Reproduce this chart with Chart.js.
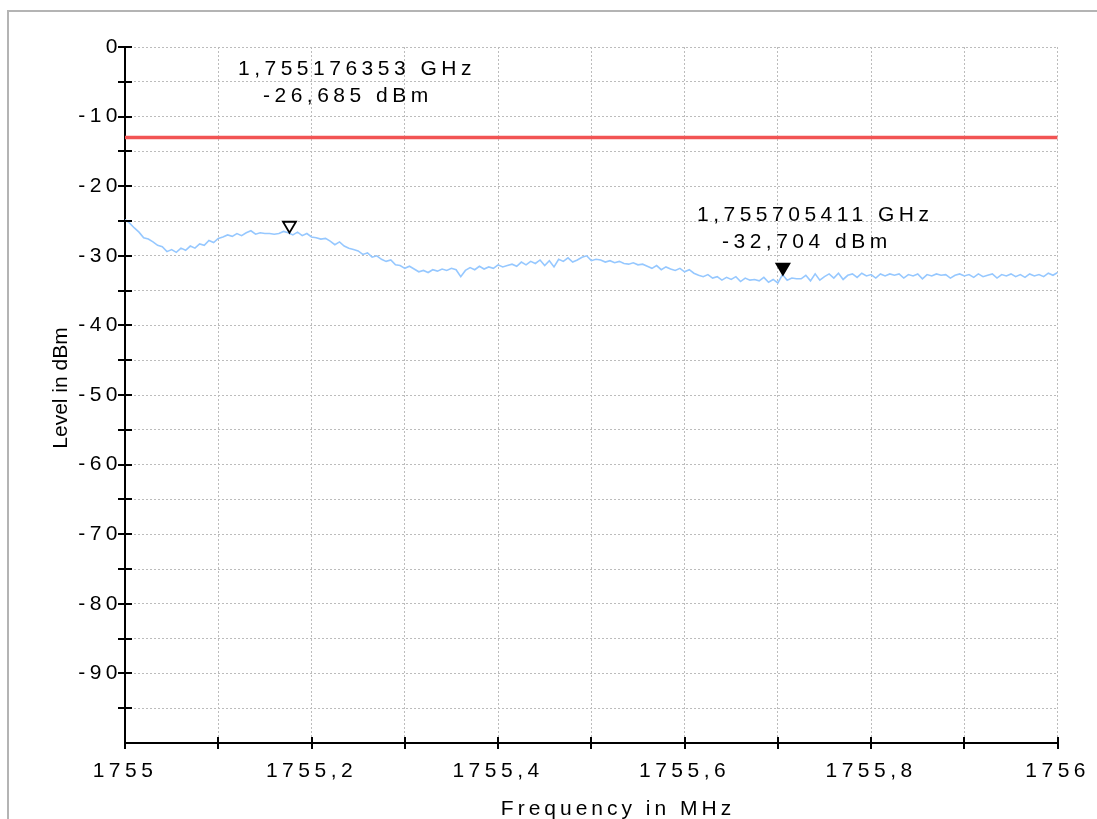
<!DOCTYPE html>
<html>
<head>
<meta charset="utf-8">
<script src="https://cdn.jsdelivr.net/npm/chart.js@4"></script>
<style>
  body { margin: 0; background: #fff; }
  #frame { position: absolute; left: 7px; top: 10px; width: 1100px; height: 820px; border: 2px solid #b4b4b4; box-sizing: border-box; }
  #spec-chart { position: absolute; left: 0; top: 0; }
</style>
</head>
<body>
<div id="frame"></div>
<canvas id="spec-chart" width="1097" height="819"></canvas>
<script>
// Spectrum trace, frequency in MHz
const freqs = [
  1755.000, 1755.005, 1755.010, 1755.015, 1755.020, 1755.025, 1755.030, 1755.035, 1755.040, 1755.045,
  1755.050, 1755.055, 1755.060, 1755.065, 1755.070, 1755.075, 1755.080, 1755.085, 1755.090, 1755.095,
  1755.100, 1755.105, 1755.110, 1755.115, 1755.120, 1755.125, 1755.130, 1755.135, 1755.140, 1755.145,
  1755.150, 1755.155, 1755.160, 1755.165, 1755.170, 1755.175, 1755.180, 1755.185, 1755.190, 1755.195,
  1755.200, 1755.205, 1755.210, 1755.215, 1755.220, 1755.225, 1755.230, 1755.235, 1755.240, 1755.245,
  1755.250, 1755.255, 1755.260, 1755.265, 1755.270, 1755.275, 1755.280, 1755.285, 1755.290, 1755.295,
  1755.300, 1755.305, 1755.310, 1755.315, 1755.320, 1755.325, 1755.330, 1755.335, 1755.340, 1755.345,
  1755.350, 1755.355, 1755.360, 1755.365, 1755.370, 1755.375, 1755.380, 1755.385, 1755.390, 1755.395,
  1755.400, 1755.405, 1755.410, 1755.415, 1755.420, 1755.425, 1755.430, 1755.435, 1755.440, 1755.445,
  1755.450, 1755.455, 1755.460, 1755.465, 1755.470, 1755.475, 1755.480, 1755.485, 1755.490, 1755.495,
  1755.500, 1755.505, 1755.510, 1755.515, 1755.520, 1755.525, 1755.530, 1755.535, 1755.540, 1755.545,
  1755.550, 1755.555, 1755.560, 1755.565, 1755.570, 1755.575, 1755.580, 1755.585, 1755.590, 1755.595,
  1755.600, 1755.605, 1755.610, 1755.615, 1755.620, 1755.625, 1755.630, 1755.635, 1755.640, 1755.645,
  1755.650, 1755.655, 1755.660, 1755.665, 1755.670, 1755.675, 1755.680, 1755.685, 1755.690, 1755.695,
  1755.700, 1755.705, 1755.710, 1755.715, 1755.720, 1755.725, 1755.730, 1755.735, 1755.740, 1755.745,
  1755.750, 1755.755, 1755.760, 1755.765, 1755.770, 1755.775, 1755.780, 1755.785, 1755.790, 1755.795,
  1755.800, 1755.805, 1755.810, 1755.815, 1755.820, 1755.825, 1755.830, 1755.835, 1755.840, 1755.845,
  1755.850, 1755.855, 1755.860, 1755.865, 1755.870, 1755.875, 1755.880, 1755.885, 1755.890, 1755.895,
  1755.900, 1755.905, 1755.910, 1755.915, 1755.920, 1755.925, 1755.930, 1755.935, 1755.940, 1755.945,
  1755.950, 1755.955, 1755.960, 1755.965, 1755.970, 1755.975, 1755.980, 1755.985, 1755.990, 1755.995,
  1756.000
];
// Level in dBm
const levels = [
  -24.8, -25.3, -26.0, -26.6, -27.4, -27.6, -28.0, -28.5, -28.7, -29.4,
  -29.1, -29.5, -28.9, -29.2, -28.6, -28.9, -28.3, -28.5, -27.8, -28.1,
  -27.5, -27.3, -27.0, -27.2, -26.8, -27.1, -26.7, -26.4, -26.9, -26.7,
  -26.8, -26.8, -26.9, -26.8, -26.5, -26.7, -27.0, -26.6, -27.1, -26.8,
  -27.3, -27.4, -27.6, -27.5, -27.9, -28.4, -28.0, -28.6, -28.9, -29.1,
  -29.3, -29.8, -29.6, -30.2, -30.0, -30.5, -30.8, -30.6, -31.3, -31.4,
  -31.8, -31.5, -31.9, -32.3, -32.1, -32.4, -32.0, -32.2, -31.9, -32.1,
  -31.8, -32.0, -33.0, -32.1, -31.7, -32.0, -31.5, -31.9, -31.6, -31.8,
  -31.3, -31.6, -31.4, -31.2, -31.5, -30.9, -31.3, -30.8, -31.1, -30.6,
  -31.4, -30.7, -31.6, -30.5, -30.8, -30.3, -30.9, -30.6, -30.2, -30.0,
  -30.7, -30.5, -30.6, -30.9, -30.7, -31.0, -30.8, -31.1, -31.2, -31.0,
  -31.3, -31.2, -31.5, -31.8, -31.4, -32.0, -31.6, -31.9, -32.1, -31.8,
  -32.3, -32.0, -32.5, -32.8, -33.0, -32.7, -33.2, -33.0, -33.5, -33.1,
  -33.4, -33.0, -33.7, -33.2, -33.5, -33.4, -33.6, -33.1, -33.8, -33.4,
  -33.9, -32.7, -33.5, -33.2, -33.3, -33.3, -32.8, -33.6, -32.6, -33.5,
  -33.0, -32.6, -33.2, -32.5, -33.4, -32.8, -32.6, -33.1, -32.5, -32.9,
  -32.7, -33.2, -32.6, -32.9, -32.6, -32.8, -32.6, -33.2, -32.7, -32.9,
  -32.6, -33.3, -32.7, -32.9, -32.6, -32.8, -32.7, -33.2, -32.8, -32.6,
  -32.9, -32.7, -33.1, -32.6, -33.0, -32.8, -32.6, -33.2, -32.7, -32.9,
  -32.6, -33.0, -32.7, -33.1, -32.6, -32.9, -32.7, -33.0, -32.5, -32.8,
  -32.4
];

// Limit line
const limitFreqs = [1755, 1756];
const limitLevels = [-13, -13];

// Markers (frequency MHz, level dBm)
const markerFreqs = [1755.176353, 1755.705411];
const markerLevels = [-26.685, -32.704];
const markerFilled = [false, true];

// axis ranges
const xMin = 1755, xMax = 1756, xStep = 0.1;
const yMin = -100, yMax = 0, yStep = 5;

// where the marker readouts sit (left x, first baseline)
const markerLabelPos = [
  { x: 238, y: 75 },
  { x: 697, y: 221 }
];

const FONT = "'Liberation Sans', Arial, sans-serif";
const SPACING = '4.5px';

const fmtTick = function(v) {
  return String(Math.round(v * 10) / 10).replace('.', ',');
};

// draws axis ticks crossing the axis, titles and the marker readouts
const analyzerPlugin = {
  id: 'analyzer',
  beforeDraw(chart) {
    chart.ctx.letterSpacing = SPACING;
  },
  afterDatasetsDraw(chart) {
    const ctx = chart.ctx;
    const xs = chart.scales.x, ys = chart.scales.y;
    ctx.save();
    for (let i = 0; i < markerFreqs.length; i++) {
      const px = xs.getPixelForValue(markerFreqs[i]);
      const py = ys.getPixelForValue(markerLevels[i]);
      ctx.beginPath();
      ctx.moveTo(px - 6.5, py - 11);
      ctx.lineTo(px + 6.5, py - 11);
      ctx.lineTo(px, py);
      ctx.closePath();
      ctx.lineWidth = 1.8;
      ctx.strokeStyle = '#000';
      ctx.fillStyle = markerFilled[i] ? '#000' : '#fff';
      ctx.fill();
      ctx.stroke();
    }
    ctx.restore();
  },
  afterDraw(chart) {
    const ctx = chart.ctx;
    const xs = chart.scales.x, ys = chart.scales.y;
    const area = chart.chartArea;
    ctx.save();
    ctx.strokeStyle = '#000';
    ctx.lineWidth = 2;
    ctx.beginPath();
    ys.ticks.forEach(t => {
      if (t.value <= yMin) return;
      const p = Math.round(ys.getPixelForValue(t.value));
      ctx.moveTo(area.left - 7, p);
      ctx.lineTo(area.left + 7, p);
    });
    xs.ticks.forEach(t => {
      const p = Math.round(xs.getPixelForValue(t.value));
      ctx.moveTo(p, area.bottom - 6);
      ctx.lineTo(p, area.bottom + 6);
    });
    ctx.stroke();

    ctx.fillStyle = '#000';
    ctx.textBaseline = 'alphabetic';

    // x title
    ctx.letterSpacing = '4px';
    ctx.font = '21px ' + FONT;
    ctx.textAlign = 'center';
    ctx.fillText('Frequency in MHz', 618, 815);

    // y title
    ctx.letterSpacing = '0px';
    ctx.font = '21px ' + FONT;
    ctx.save();
    ctx.translate(67, 388);
    ctx.rotate(-Math.PI / 2);
    ctx.fillText('Level in dBm', 0, 0);
    ctx.restore();

    // marker readouts
    ctx.letterSpacing = SPACING;
    ctx.textAlign = 'left';
    for (let i = 0; i < markerFreqs.length; i++) {
      const ghz = (markerFreqs[i] / 1000).toFixed(9).replace('.', ',') + ' GHz';
      const dbm = markerLevels[i].toFixed(3).replace('.', ',') + ' dBm';
      ctx.fillText(ghz, markerLabelPos[i].x, markerLabelPos[i].y);
      ctx.fillText(dbm, markerLabelPos[i].x + 25, markerLabelPos[i].y + 27);
    }
    ctx.restore();
    ctx.letterSpacing = '0px';
  }
};

const gridStyle = { color: '#bcbcbc', lineWidth: 1, drawTicks: false };
const borderStyle = { color: '#000', width: 2, dash: [2, 2] };

var specctx = document.getElementById('spec-chart').getContext('2d');
const specChart = new Chart(specctx, {
  type: 'line',
  data: {
    datasets: [
      {
        label: 'Trace',
        data: freqs.map((f, i) => ({ x: f, y: levels[i] })),
        borderColor: '#96c8ff',
        borderWidth: 1.6,
        pointRadius: 0,
        tension: 0
      },
      {
        label: 'Limit',
        data: limitFreqs.map((f, i) => ({ x: f, y: limitLevels[i] })),
        borderColor: '#f25454',
        borderWidth: 3.5,
        pointRadius: 0
      }
    ]
  },
  options: {
    responsive: false,
    animation: false,
    layout: { padding: { left: 0, top: 47, right: 38, bottom: 0 } },
    plugins: {
      legend: { display: false },
      tooltip: { enabled: false }
    },
    scales: {
      x: {
        type: 'linear',
        min: xMin,
        max: xMax,
        afterFit: function(s) { s.height = 76; },
        grid: gridStyle,
        border: borderStyle,
        ticks: {
          stepSize: xStep,
          autoSkip: false,
          maxRotation: 0,
          padding: 16,
          color: '#000',
          font: { family: FONT, size: 21 },
          callback: function(v) {
            const k = Math.round((v - xMin) / xStep);
            return k % 2 === 0 ? fmtTick(v) : '';
          }
        }
      },
      y: {
        min: yMin,
        max: yMax,
        afterFit: function(s) { s.width = 125; },
        grid: gridStyle,
        border: borderStyle,
        ticks: {
          stepSize: yStep,
          autoSkip: false,
          padding: 3,
          color: '#000',
          font: { family: FONT, size: 21 },
          callback: function(v) {
            return (v % 10 === 0 && v > yMin) ? String(v) : '';
          }
        }
      }
    }
  },
  plugins: [analyzerPlugin]
});
</script>
</body>
</html>
